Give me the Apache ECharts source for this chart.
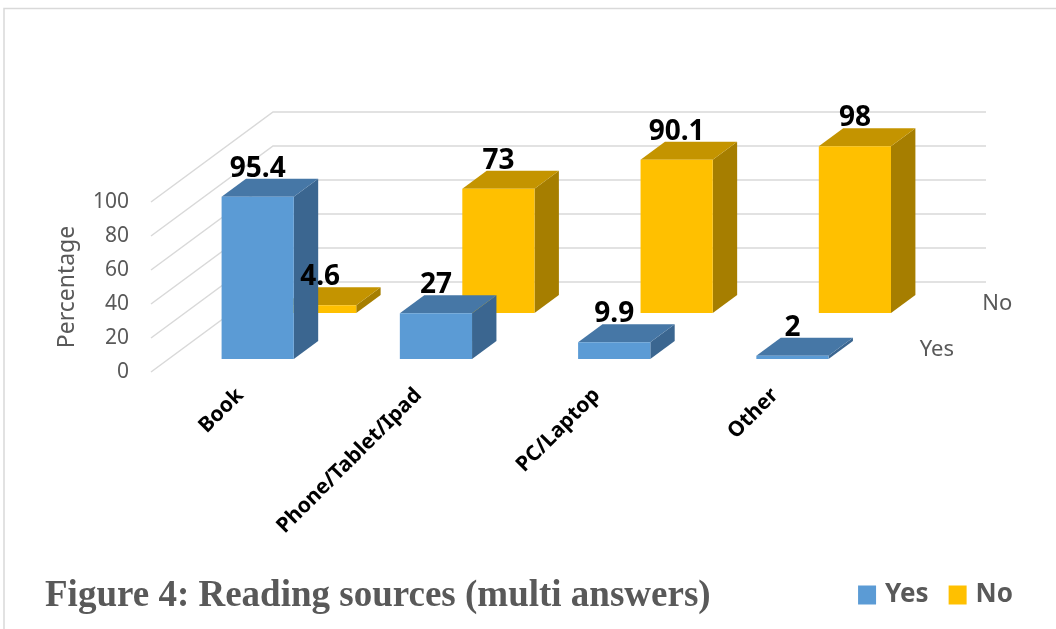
<!DOCTYPE html>
<html>
<head>
<meta charset="utf-8">
<script src="https://cdn.jsdelivr.net/npm/echarts@6/dist/echarts.min.js"></script>
<style>
  html, body { margin: 0; padding: 0; background: #fff; }
  #container { width: 1056px; height: 629px; }
</style>
</head>
<body>
<div id="container"></div>
<script type="text/javascript">
// chart data
var categories = ['Book', 'Phone/Tablet/Ipad', 'PC/Laptop', 'Other'];
var yesValues = [95.4, 27, 9.9, 2];
var noValues = [4.6, 73, 90.1, 98];
var seriesNames = ['Yes', 'No'];
var yTicks = [0, 20, 40, 60, 80, 100];

// fake 3d: depth vector of the whole floor, and where each row sits in it
var DX = 122, DY = -90;
var rowDepth = [[0.144, 0.344], [0.656, 0.856]];
var barPart = 0.405;
var colors = [
  { front: '#5B9BD5', top: '#4677A6', side: '#3B6690' },
  { front: '#FFC000', top: '#C49400', side: '#A67E00' }
];

function barRender(row) {
  return function (params, api) {
    var ci = api.value(0), v = api.value(1);
    var base = api.coord([ci, 0]);
    var top = api.coord([ci, v]);
    var band = api.size([1, 0])[0];
    var hw = band * barPart / 2;
    var d0 = rowDepth[row][0], d1 = rowDepth[row][1];
    var ox0 = DX * d0, oy0 = DY * d0, ox1 = DX * d1, oy1 = DY * d1;
    var L = base[0] - hw, R = base[0] + hw, T = top[1], B = base[1];
    var c = colors[row];
    return {
      type: 'group',
      children: [
        { type: 'polygon', shape: { points: [[R + ox0, T + oy0], [R + ox1, T + oy1], [R + ox1, B + oy1], [R + ox0, B + oy0]] },
          style: { fill: c.side } },
        { type: 'polygon', shape: { points: [[L + ox0, T + oy0], [R + ox0, T + oy0], [R + ox1, T + oy1], [L + ox1, T + oy1]] },
          style: { fill: c.top } },
        { type: 'rect', shape: { x: L + ox0, y: T + oy0, width: 2 * hw, height: B - T },
          style: { fill: c.front } }
      ]
    };
  };
}

var labelData = [];
for (var i = 0; i < categories.length; i++) {
  labelData.push([i, noValues[i], 1]);
  labelData.push([i, yesValues[i], 0]);
}

var mychart = echarts.init(document.getElementById('container'));
var option = {
  animation: false,
  backgroundColor: '#fff',
  title: {
    text: 'Figure 4: Reading sources (multi answers)',
    left: 40, top: 573,
    textStyle: { fontFamily: 'Liberation Serif', fontWeight: 'bold', fontSize: 37, color: '#595959' }
  },
  legend: {
    data: seriesNames,
    right: 38, top: 577,
    icon: 'rect', itemWidth: 18, itemHeight: 19, itemGap: 20,
    textStyle: { fontFamily: 'Noto Sans', fontWeight: 'bold', fontSize: 26, color: '#595959', padding: [0, 0, 0, 4] }
  },
  graphic: [{
    type: 'polyline',
    shape: { points: [[4, 629], [4, 8.5], [1056, 8.5]] },
    style: { stroke: '#D9D9D9', lineWidth: 1.5, fill: null }
  }],
  grid: { left: 151, right: 192, top: 202, bottom: 257 },
  xAxis: {
    type: 'category',
    data: categories,
    axisLine: { show: false },
    axisTick: { show: false },
    axisLabel: { interval: 0, rotate: 45, margin: 20, fontFamily: 'Noto Sans', fontWeight: 'bold', fontSize: 21, color: '#000' }
  },
  yAxis: {
    type: 'value',
    min: 0, max: 100, interval: 20,
    name: 'Percentage',
    nameLocation: 'middle',
    nameGap: 72,
    nameTextStyle: { fontFamily: 'Noto Sans', fontSize: 23, color: '#595959' },
    axisLine: { show: false },
    axisTick: { show: false },
    splitLine: { show: false },
    axisLabel: { margin: 22, fontFamily: 'Noto Sans', fontSize: 21, color: '#595959' }
  },
  series: [
    {
      // walls: left side wall + back wall gridlines
      name: 'walls', type: 'custom', z: 1, silent: true,
      data: yTicks.map(function (v) { return [0, v]; }),
      renderItem: function (params, api) {
        var p = api.coord([0, api.value(1)]);
        var band = api.size([1, 0])[0];
        var x0 = p[0] - band / 2;
        var w = band * categories.length;
        return {
          type: 'polyline',
          shape: { points: [[x0, p[1]], [x0 + DX, p[1] + DY], [x0 + DX + w, p[1] + DY]] },
          style: { stroke: '#D9D9D9', lineWidth: 1.5, fill: null }
        };
      }
    },
    {
      name: 'No', type: 'custom', z: 2,
      itemStyle: { color: '#FFC000' },
      data: noValues.map(function (v, i) { return [i, v]; }),
      renderItem: barRender(1)
    },
    {
      name: 'Yes', type: 'custom', z: 3,
      itemStyle: { color: '#5B9BD5' },
      data: yesValues.map(function (v, i) { return [i, v]; }),
      renderItem: barRender(0)
    },
    {
      name: 'values', type: 'custom', z: 4, silent: true,
      data: labelData,
      renderItem: function (params, api) {
        var ci = api.value(0), v = api.value(1), row = api.value(2);
        var top = api.coord([ci, v]);
        var d0 = rowDepth[row][0];
        return {
          type: 'text',
          style: {
            text: String(v),
            x: top[0] + DX * d0, y: top[1] + DY * d0 - 28,
            align: 'center', verticalAlign: 'middle',
            fontFamily: 'Noto Sans', fontWeight: 'bold', fontSize: 28, fill: '#000'
          }
        };
      }
    },
    {
      name: 'depth', type: 'custom', z: 4, silent: true,
      data: seriesNames.map(function (n, i) { return [categories.length - 1, 0, i]; }),
      renderItem: function (params, api) {
        var row = api.value(2);
        var p = api.coord([api.value(0), 0]);
        var band = api.size([1, 0])[0];
        var mid = (rowDepth[row][0] + rowDepth[row][1]) / 2;
        return {
          type: 'text',
          style: {
            text: seriesNames[row],
            x: p[0] + band / 2 + DX * mid + 26, y: p[1] + DY * mid,
            align: 'left', verticalAlign: 'middle',
            fontFamily: 'Noto Sans', fontSize: 22, fill: '#595959'
          }
        };
      }
    }
  ]
};
mychart.setOption(option);
</script>
</body>
</html>
